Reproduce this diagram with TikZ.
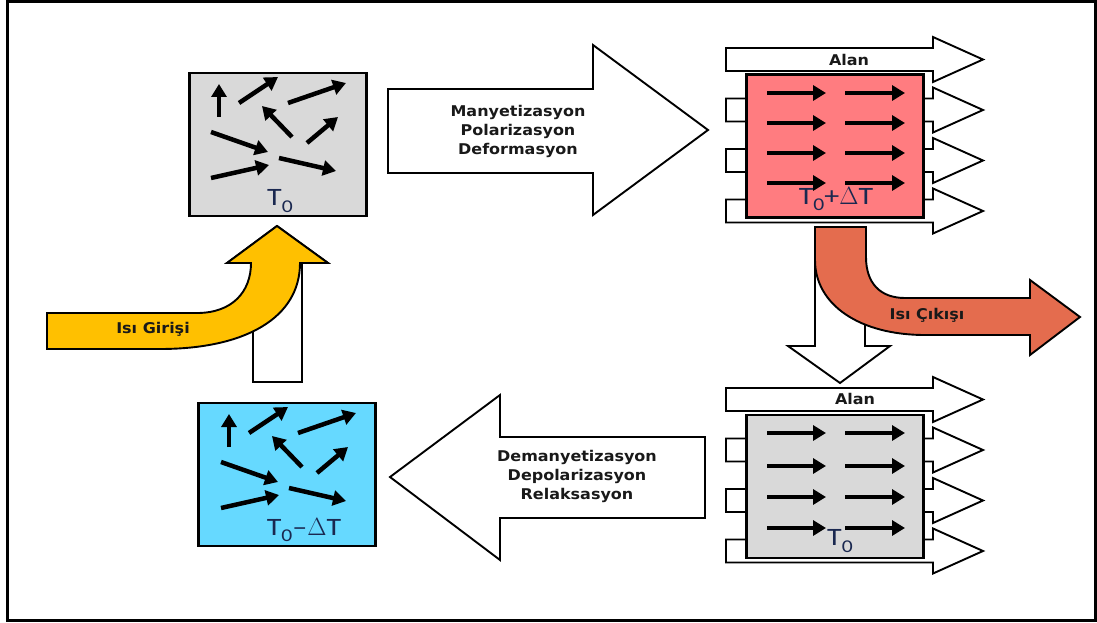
\documentclass[tikz,border=0pt]{standalone}
\usepackage{fontspec}
\usetikzlibrary{arrows.meta}
\newfontfamily\lblfont[FakeStretch=1.08]{DejaVu Sans}
\newfontfamily\tfont[FakeStretch=1.2]{Carlito}
\definecolor{boxgray}{HTML}{D9D9D9}
\definecolor{hotpink}{HTML}{FF7C80}
\definecolor{coldcyan}{HTML}{66D9FF}
\definecolor{heatyellow}{HTML}{FFC000}
\definecolor{heatorange}{HTML}{E46C4E}
\definecolor{labelblue}{HTML}{1A2850}
\tikzset{
  blockarrow/.style={draw=black, line width=1.9pt, fill=white, line join=miter},
  matbox/.style={draw=black, line width=2.4pt, minimum width=177pt, minimum height=143pt, inner sep=0pt},
  inarr/.style={line width=4.5pt, -{Triangle[length=13pt,width=15pt]}},
  lbl/.style={font=\lblfont\bfseries\fontsize{14.8}{19}\selectfont, align=center, inner sep=0pt, text=black!90},
  tlbl/.style={font=\tfont\fontsize{25}{27}\selectfont, inner sep=0pt, text=labelblue},
}
\newcommand{\myRandArrows}{%
  \draw[inarr] (219,117) -- (219,84);
  \draw[inarr] (239,103) -- (278,77);
  \draw[inarr] (288,103) -- (346,83);
  \draw[inarr] (292,137) -- (262,106);
  \draw[inarr] (307,143) -- (338,117);
  \draw[inarr] (211,132) -- (268,152);
  \draw[inarr] (211,178) -- (269,165);
  \draw[inarr] (279,158) -- (336,171);
}
\newcommand{\myFieldArrow}[1]{%
  \draw[blockarrow] (726,#1-11.5) -- (933,#1-11.5) -- (933,#1-22.5) -- (983,#1)
    -- (933,#1+22.5) -- (933,#1+11.5) -- (726,#1+11.5) -- cycle;
}
\newcommand{\myAlignedArrows}[4]{%
  \foreach \yy in {#1,#2,#3,#4} {
    \draw[inarr] (767,\yy) -- (826,\yy);
    \draw[inarr] (845,\yy) -- (905,\yy);
  }
}
\newcommand{\Tsub}[1]{T\raisebox{-0.25em}{\fontsize{18}{18}\selectfont #1}}
\begin{document}
\begin{tikzpicture}[x=1pt,y=-1pt]
\useasboundingbox (0,0) rectangle (1097,623);
\fill[white] (0,0) rectangle (1097,623);
\draw[line width=3pt] (7.5,1.5) rectangle (1095.5,620.5);

% ---------- top-left box T0
\node[matbox, fill=boxgray] (cold0) at (278,144.5) {};
\myRandArrows
\node[tlbl] (t0a) at (280,201) {\Tsub{0}};

% ---------- bottom-left box T0-dT
\node[matbox, fill=coldcyan] (cold1) at (287,474.5) {};
\begin{scope}[shift={(10,330)}]
\myRandArrows
\end{scope}
\node[tlbl] (t0b) at (304,530) {\Tsub{0}–$\Delta$T};

% ---------- top-right group
\myFieldArrow{59.5}
\myFieldArrow{110}
\myFieldArrow{160.5}
\myFieldArrow{211}
\node[matbox, fill=hotpink] (hot) at (835,146) {};
\myAlignedArrows{93}{123}{153}{183}
\node[lbl] (alan1) at (849,60) {Alan};
\node[tlbl] (t0c) at (836,199) {\Tsub{0}+$\Delta$T};

% ---------- bottom-right group
\myFieldArrow{399.5}
\myFieldArrow{450}
\myFieldArrow{500.5}
\myFieldArrow{551}
\node[matbox, fill=boxgray] (mid) at (835,486.5) {};
\myAlignedArrows{433}{466}{497}{528}
\node[lbl] (alan2) at (855,399) {Alan};
\node[tlbl] (t0d) at (840,541) {\Tsub{0}};

% ---------- big process arrows
\draw[blockarrow] (388,89) -- (593,89) -- (593,45) -- (708,130) -- (593,215) -- (593,173) -- (388,173) -- cycle;
\node[lbl] (mtext) at (518,131) {Manyetizasyon\\Polarizasyon\\Deformasyon};

\draw[blockarrow] (390,477) -- (500,395) -- (500,437) -- (705,437) -- (705,518) -- (500,518) -- (500,560) -- cycle;
\node[lbl] (dtext) at (577,476) {Demanyetizasyon\\Depolarizasyon\\Relaksasyon};

% ---------- white vertical arrows
\draw[blockarrow] (253,382) -- (302,382) -- (302,263) -- (328,263) -- (277,226) -- (227,263) -- (253,263) -- cycle;
\draw[blockarrow] (815,227) -- (865,227) -- (865,346) -- (890,346) -- (840,383) -- (788,346) -- (815,346) -- cycle;

% ---------- heat in (yellow)
\draw[blockarrow, fill=heatyellow] (47,313) -- (197,313) .. controls (232,313) and (251,292) .. (251,263)
  -- (227,263) -- (277,226) -- (328,263) -- (300,263)
  .. controls (300,318) and (245,349) .. (160,349) -- (47,349) -- cycle;
\node[lbl] (heatin) at (153,329) {Isı Girişi};

% ---------- heat out (orange)
\draw[blockarrow, fill=heatorange] (815,227) -- (866,227) -- (866,257)
  .. controls (866,283) and (880,298) .. (905,298) -- (1030,298) -- (1030,280) -- (1080,317)
  -- (1030,355) -- (1030,335) -- (925,335) .. controls (860,335) and (815,305) .. (815,260) -- cycle;
\node[lbl] (heatout) at (927,315) {Isı Çıkışı};
\end{tikzpicture}
\end{document}
